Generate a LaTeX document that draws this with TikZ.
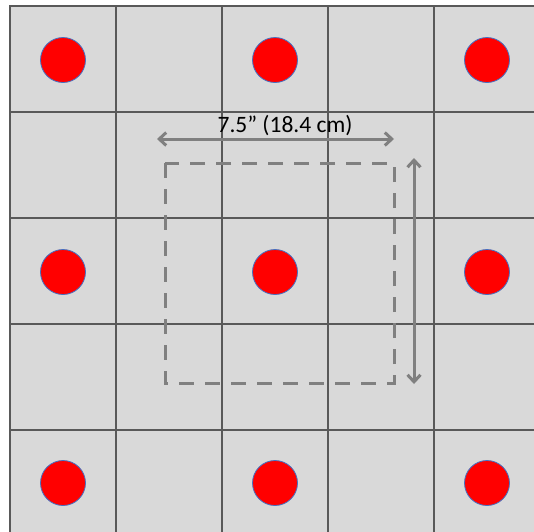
\documentclass[tikz,border=0pt]{standalone}
\usepackage{fontspec}
\setmainfont{Carlito}
\usetikzlibrary{arrows.meta}
\definecolor{cellbg}{HTML}{D9D9D9}
\definecolor{gridline}{HTML}{595959}
\definecolor{dotedge}{HTML}{4472C4}
\definecolor{guide}{HTML}{808080}
\tikzset{
  x=1pt, y=-1pt,
  cell/.style={draw=gridline, line width=1.7pt, fill=cellbg},
  dot/.style={circle, fill=red, draw=dotedge, line width=0.8pt, minimum size=45pt, inner sep=0pt},
  dashbox/.style={draw=guide, line width=3pt, dash pattern=on 15pt off 11pt},
  dim/.style={draw=guide, line width=3pt, {Straight Barb[length=7pt,width=13pt,line width=3pt]}-{Straight Barb[length=7pt,width=13pt,line width=3pt]}},
  lbl/.style={font=\fontsize{23.5}{26}\selectfont, text=black, inner sep=0pt}
}
\begin{document}
\begin{tikzpicture}
\useasboundingbox (0,0) rectangle (534,531);
\fill[white] (0,0) rectangle (534,531);
\begin{scope}
\clip (0,0) rectangle (534,531);
\foreach \i in {0,...,4}{
  \foreach \j in {0,...,4}{
    \draw[cell] (10+\i*106,6+\j*106) rectangle (116+\i*106,112+\j*106);
  }
}
\end{scope}
\foreach \i/\c in {0/a,2/b,4/c}{
  \node[dot] (d\c1) at (63+\i*106,60) {};
  \node[dot] (d\c2) at (63+\i*106,272) {};
  \node[dot] (d\c3) at (63+\i*106,483) {};
}
\draw[dashbox] (165,163) rectangle (394,383);
\coordinate (hl) at (157,139);
\coordinate (hr) at (394,139);
\coordinate (vt) at (414,158);
\coordinate (vb) at (414,384);
\draw[dim] (hl) -- (hr);
\draw[dim] (vt) -- (vb);
\node[lbl] (t) at (285,126) {7.5” (18.4 cm)};
\end{tikzpicture}
\end{document}
